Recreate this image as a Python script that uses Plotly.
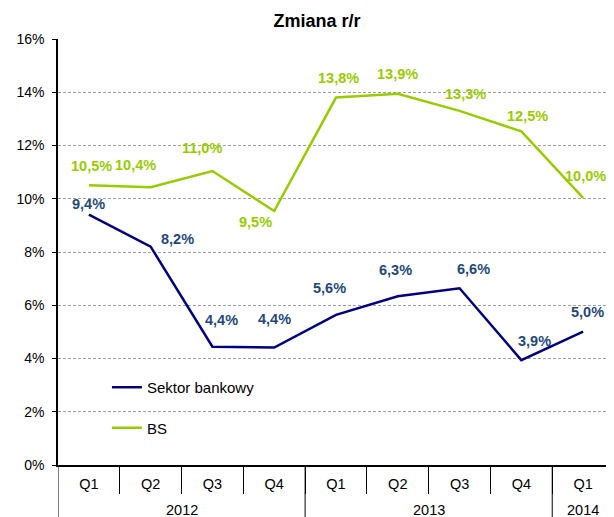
import plotly.graph_objects as go

quarters = ["Q1", "Q2", "Q3", "Q4", "Q1", "Q2", "Q3", "Q4", "Q1"]
years = ["2012", "2013", "2014"]
year_spans = [(0, 3), (4, 7), (8, 8)]  # first/last quarter index of each year
sektor_bankowy = [9.40, 8.20, 4.44, 4.41, 5.64, 6.34, 6.64, 3.94, 5.01]
bs = [10.51, 10.43, 11.04, 9.54, 13.80, 13.94, 13.30, 12.53, 10.03]
y_ticks = [0, 2, 4, 6, 8, 10, 12, 14, 16]

# label offsets (px) relative to points
sb_dx = [0, 27, 9, 0, -7, -2, 14, 13, 4]
sb_dy = [11, 8, 27, 29, 27, 26, 19, 19, 20]
bs_dx = [3, -15, -10, -19, 2, 0, 6, 6, 2]
bs_dy = [19, 22, 23, -11, 20, 20, 17, 15, 22]

NAVY = "#000080"
NAVY_TXT = "#1F497D"
LIME = "#99CC00"
FONT = "Liberation Sans, Arial, sans-serif"

W, H = 606, 509
ML, MT, MB, MR = 50, 31, 52, 0
PLOT_H = H - MT - MB

idx = list(range(len(quarters)))

fig = go.Figure()
fig.add_trace(go.Scatter(x=idx, y=sektor_bankowy, mode="lines",
                         name="Sektor bankowy", line=dict(color=NAVY, width=2.5),
                         legendgroup="a"))
fig.add_trace(go.Scatter(x=idx, y=bs, mode="lines",
                         name="BS", line=dict(color=LIME, width=2.5),
                         legendgroup="b"))

for i, v in enumerate(sektor_bankowy):
    fig.add_annotation(x=i, y=v, text=f"{v:.1f}%".replace(".", ","), showarrow=False,
                       xshift=sb_dx[i], yshift=sb_dy[i],
                       font=dict(family=FONT, size=14.5, color=NAVY_TXT, weight="bold"))
for i, v in enumerate(bs):
    fig.add_annotation(x=i, y=v, text=f"{v:.1f}%".replace(".", ","), showarrow=False,
                       xshift=bs_dx[i], yshift=bs_dy[i],
                       font=dict(family=FONT, size=14.5, color=LIME, weight="bold"))

# year labels and year dividers below the axis
bottom = -MB / PLOT_H
for name, (a, b) in zip(years, year_spans):
    fig.add_annotation(x=(a + b) / 2, y=-45 / PLOT_H, xref="x", yref="paper",
                       text=name, showarrow=False, yanchor="middle",
                       font=dict(family=FONT, size=14.5, color="black"))
for a, b in year_spans:
    fig.add_shape(type="line", xref="x", yref="paper", x0=a - 0.5, x1=a - 0.5,
                  y0=0, y1=bottom, line=dict(color="black", width=1))

fig.update_layout(
    width=W, height=H,
    margin=dict(l=ML, r=MR, t=MT, b=MB),
    paper_bgcolor="white", plot_bgcolor="white",
    font=dict(family=FONT, size=14, color="black"),
    title=dict(text="<b>Zmiana r/r</b>", x=309 / W, xanchor="center", xref="container",
               y=1 - 13 / H, yanchor="middle", yref="container",
               font=dict(size=18, color="black")),
    showlegend=True,
    legend=dict(x=0.088, y=0.2207, xanchor="left", yanchor="top", bgcolor="rgba(0,0,0,0)",
                font=dict(size=15), tracegroupgap=18, itemwidth=30),
    xaxis=dict(range=[-0.5, 8.5], showgrid=False, zeroline=False,
               tickvals=idx, ticktext=quarters, ticks="",
               ticklabelstandoff=5,
               showline=True, linecolor="black", linewidth=1.5,
               tickfont=dict(size=14.5),
               minor=dict(tickvals=[i + 0.5 for i in idx[:-1]], ticks="outside",
                          ticklen=27, tickcolor="black", tickwidth=1, showgrid=False)),
    yaxis=dict(range=[0, 16], tickvals=y_ticks, ticktext=[f"{t}%" for t in y_ticks],
               showline=True, linecolor="black", linewidth=1.5,
               ticks="outside", ticklen=4, tickcolor="black",
               ticklabelstandoff=5,
               showgrid=True, gridcolor="#A0A0A0", griddash="3px,2px", gridwidth=1,
               zeroline=False, tickfont=dict(size=14)),
)

fig.write_html("out.html")
